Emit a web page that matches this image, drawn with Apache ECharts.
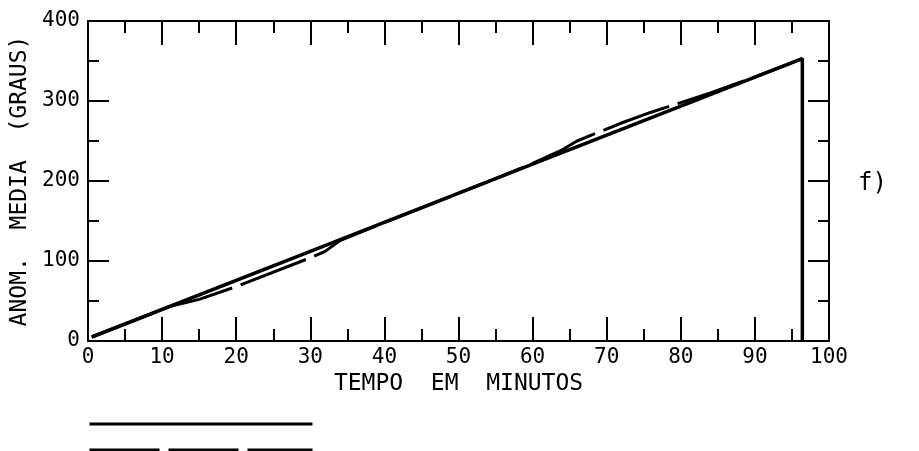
<!DOCTYPE html>
<html>
<head>
<meta charset="utf-8">
<script src="https://cdn.jsdelivr.net/npm/echarts@6/dist/echarts.min.js"></script>
<style>
html,body{margin:0;padding:0;background:#fff;}
#chart{width:919px;height:451px;}
</style>
</head>
<body>
<div id="chart"></div>
<script>
// Time in minutes and mean anomaly (degrees)
var solidTime   = [0.5, 30, 60, 96.4, 96.4];
var solidAnom   = [5, 112, 221, 353, 0];
var dashedTime  = [0.5, 11, 15, 20, 30, 32, 34, 40, 55, 60, 64, 66, 72, 76, 80, 84, 87, 90, 96.4];
var dashedAnom  = [5, 43, 52, 68, 104, 112, 125.5, 148, 203, 222, 239, 250, 272.5, 286, 298, 310, 320, 330, 353];
var xTicks = [0, 10, 20, 30, 40, 50, 60, 70, 80, 90, 100];
var yTicks = [0, 100, 200, 300, 400];

var FONT = 'DejaVu Sans Mono';
var chart = echarts.init(document.getElementById('chart'), null, {renderer: 'canvas'});

function pair(xs, ys){ return xs.map(function(x,i){ return [x, ys[i]]; }); }

function axLine(){ return {show: true, onZero: false, lineStyle: {color: '#000', width: 2}}; }
var tickStyle = {color: '#000', width: 2};

var legendBase = {
  orient: 'horizontal', left: 83,
  itemWidth: 223, itemHeight: 14, itemGap: 0,
  formatter: function(){ return ''; },
  selectedMode: false,
  itemStyle: {opacity: 0, borderWidth: 0},
  lineStyle: {width: 3},
  textStyle: {fontSize: 1}
};

chart.setOption({
  animation: false,
  backgroundColor: '#fff',
  grid: {left: 88, right: 90, top: 21, bottom: 110, containLabel: false},
  legend: [
    Object.assign({}, legendBase, {top: 412, data: ['solid']}),
    Object.assign({}, legendBase, {top: 438, data: ['dashed']})
  ],
  xAxis: [{
    type: 'value', position: 'bottom', min: xTicks[0], max: xTicks[xTicks.length-1], interval: 10,
    axisLine: axLine(),
    axisTick: {show: true, inside: true, length: 24, lineStyle: tickStyle},
    minorTick: {show: true, splitNumber: 2, length: 12, lineStyle: tickStyle},
    splitLine: {show: false},
    axisLabel: {color: '#000', fontFamily: FONT, fontSize: 21, margin: 6},
    name: 'TEMPO  EM  MINUTOS', nameLocation: 'middle', nameGap: 14,
    nameTextStyle: {color: '#000', fontFamily: FONT, fontSize: 23}
  }, {
    type: 'value', position: 'top', min: xTicks[0], max: xTicks[xTicks.length-1], interval: 10,
    axisLine: axLine(),
    axisTick: {show: true, inside: true, length: 24, lineStyle: tickStyle},
    minorTick: {show: true, splitNumber: 2, length: 12, lineStyle: tickStyle},
    splitLine: {show: false},
    axisLabel: {show: false}
  }],
  yAxis: [{
    type: 'value', position: 'left', min: yTicks[0], max: yTicks[yTicks.length-1], interval: 100,
    axisLine: axLine(),
    axisTick: {show: true, inside: true, length: 21, lineStyle: tickStyle},
    minorTick: {show: true, splitNumber: 2, length: 11, lineStyle: tickStyle},
    splitLine: {show: false},
    axisLabel: {color: '#000', fontFamily: FONT, fontSize: 21, margin: 8},
    name: 'ANOM.  MEDIA  (GRAUS)', nameLocation: 'middle', nameGap: 54, nameRotate: 90,
    nameTextStyle: {color: '#000', fontFamily: FONT, fontSize: 23}
  }, {
    type: 'value', position: 'right', min: yTicks[0], max: yTicks[yTicks.length-1], interval: 100,
    axisLine: axLine(),
    axisTick: {show: true, inside: true, length: 21, lineStyle: tickStyle},
    minorTick: {show: true, splitNumber: 2, length: 11, lineStyle: tickStyle},
    splitLine: {show: false},
    axisLabel: {show: false}
  }],
  graphic: [{
    type: 'text', left: 858, top: 172,
    style: {text: 'f)', fill: '#000', font: '24px ' + FONT}
  }],
  series: [{
    name: 'solid', type: 'line', xAxisIndex: 0, yAxisIndex: 0,
    data: pair(solidTime, solidAnom), showSymbol: false, symbol: 'none',
    lineStyle: {color: '#000', width: 3.5, type: 'solid'},
    itemStyle: {color: '#000'}
  }, {
    name: 'dashed', type: 'line', xAxisIndex: 0, yAxisIndex: 0,
    data: pair(dashedTime, dashedAnom), showSymbol: false, symbol: 'none',
    lineStyle: {color: '#000', width: 3, type: [70, 9]},
    itemStyle: {color: '#000'}
  }]
});
</script>
</body>
</html>
